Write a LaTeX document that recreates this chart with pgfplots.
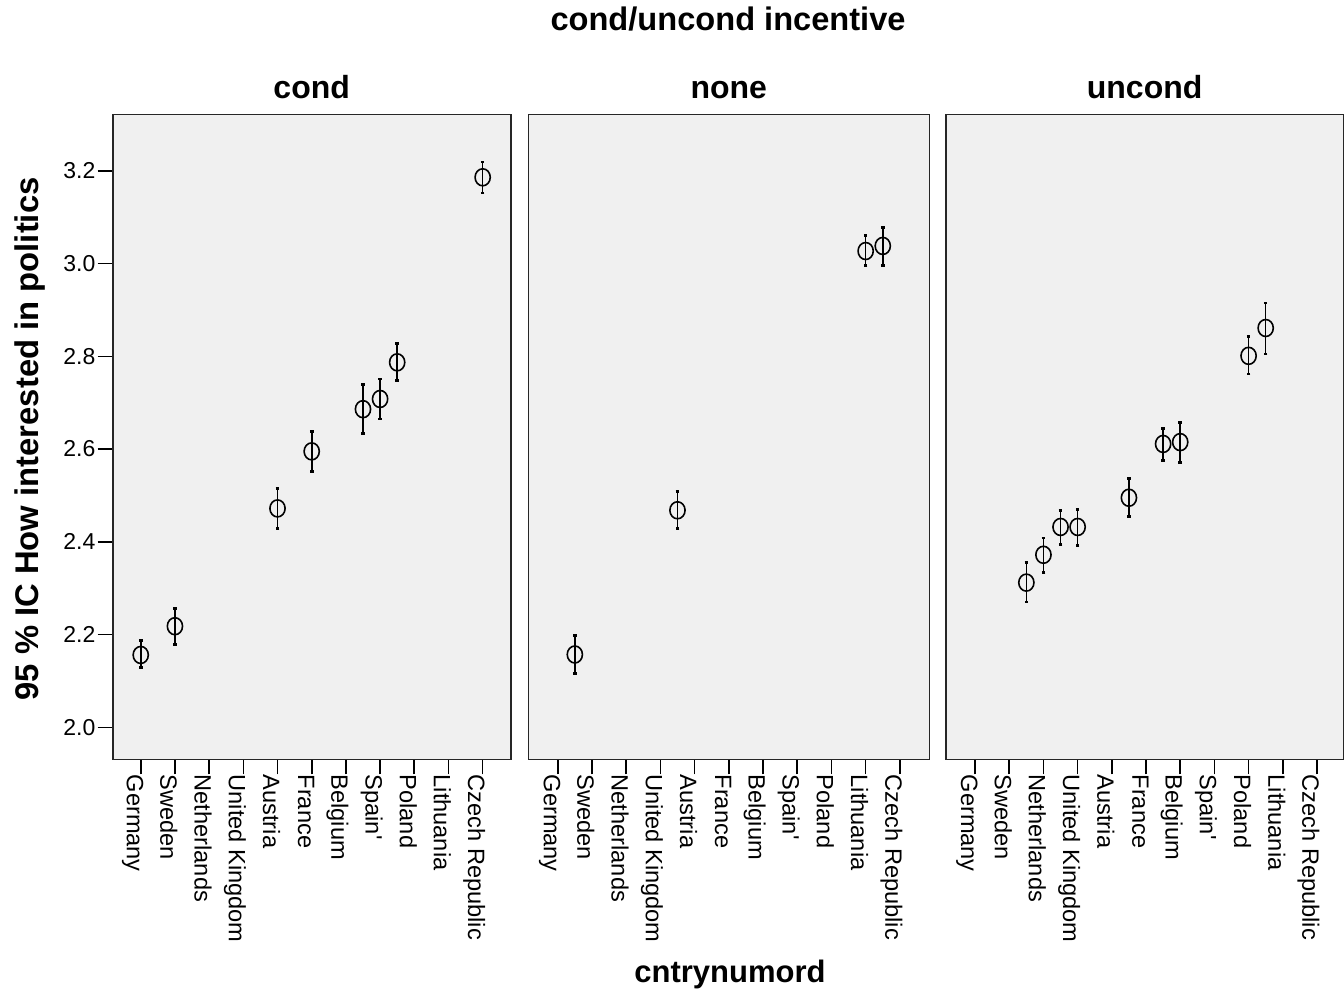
\documentclass[border=0pt]{standalone}
\usepackage{pgfplots}
\pgfplotsset{compat=1.18}
\usepackage{pgfplotstable}
\usepackage{fontspec}
\setmainfont{Liberation Sans}
\definecolor{panelbg}{HTML}{F0F0F0}

\pgfplotstableread{
x y lo hi
0 2.156 2.129 2.187
1 2.218 2.178 2.256
4 2.472 2.428 2.515
5 2.595 2.552 2.638
6.5 2.686 2.634 2.739
7 2.708 2.665 2.751
7.5 2.787 2.748 2.828
10 3.186 3.152 3.219
}\condtab

\pgfplotstableread{
x y lo hi
0.5 2.157 2.116 2.198
3.5 2.468 2.428 2.508
9 3.027 2.995 3.061
9.5 3.038 2.995 3.077
}\nonetab

\pgfplotstableread{
x y lo hi
1.5 2.312 2.270 2.355
2 2.372 2.334 2.408
2.5 2.432 2.395 2.467
3 2.432 2.392 2.470
4.5 2.495 2.454 2.537
5.5 2.611 2.575 2.645
6 2.615 2.571 2.657
8 2.801 2.762 2.843
8.5 2.861 2.805 2.915
}\uncondtab

\pgfplotsset{
  panel/.style={
    anchor=south west, scale only axis, height=322.3pt,
    ymin=1.931, ymax=3.321,
    axis background/.style={fill=panelbg},
    axis line style={line width=0.8pt, black!85},
    xtick={0,...,10},
    xticklabels={Germany,Sweden,Netherlands,United Kingdom,Austria,France,Belgium,{Spain\textquotesingle},Poland,Lithuania,Czech Republic},
    xticklabel style={xshift=1.5pt, rotate=-90, anchor=north west, inner sep=0pt, font=\fontsize{11.8}{14}\selectfont},
    tick align=outside, major tick length=7.5pt,
    tick style={line width=0.8pt, black},
    xtick pos=bottom, ytick pos=left,
    title style={at={(0.5,1)}, anchor=base, yshift=2.3pt, font=\bfseries\fontsize{16}{19}\selectfont},
  },
  pts/.style={
    only marks, mark=o, mark size=3.8pt,
    mark options={black, line width=0.8pt, yscale=1.12},
    error bars/.cd, y dir=both, y explicit,
    error bar style={line width=0.8pt, black},
    error mark=-, error mark options={rotate=90, mark size=0.9pt, line width=1.4pt, black},
  },
}

\begin{document}
\begin{tikzpicture}
\path[use as bounding box] (0,0) rectangle (672pt,498pt);

\begin{axis}[panel, at={(56.35pt,118.35pt)}, width=199pt,
  xmin=-0.82, xmax=10.82, title={cond},
  ytick={2,2.2,2.4,2.6,2.8,3,3.2},
  yticklabel style={font=\fontsize{11.5}{14}\selectfont, inner sep=1pt,
    /pgf/number format/.cd, fixed, fixed zerofill, precision=1, assume math mode=true}]
\addplot[pts] table[x=x, y=y, y error plus expr=\thisrow{hi}-\thisrow{y}, y error minus expr=\thisrow{y}-\thisrow{lo}] {\condtab};
\end{axis}

\begin{axis}[panel, at={(264.15pt,118.35pt)}, width=200.5pt,
  xmin=-0.86, xmax=10.86, title={none}, ytick=\empty]
\addplot[pts] table[x=x, y=y, y error plus expr=\thisrow{hi}-\thisrow{y}, y error minus expr=\thisrow{y}-\thisrow{lo}] {\nonetab};
\end{axis}

\begin{axis}[panel, at={(473pt,118.35pt)}, width=198.65pt,
  xmin=-0.85, xmax=10.77, title={uncond}, ytick=\empty]
\addplot[pts] table[x=x, y=y, y error plus expr=\thisrow{hi}-\thisrow{y}, y error minus expr=\thisrow{y}-\thisrow{lo}] {\uncondtab};
\end{axis}

\node[anchor=base, font=\bfseries\fontsize{16.3}{19}\selectfont] at (364pt,482.5pt) {cond/uncond incentive};
\node[anchor=base, font=\bfseries\fontsize{15.5}{18}\selectfont] at (365pt,6.5pt) {cntrynumord};
\node[anchor=base, rotate=90, font=\bfseries\fontsize{16.4}{19}\selectfont] at (19.5pt,278.5pt) {95 \% IC How interested in politics};
\end{tikzpicture}
\end{document}
